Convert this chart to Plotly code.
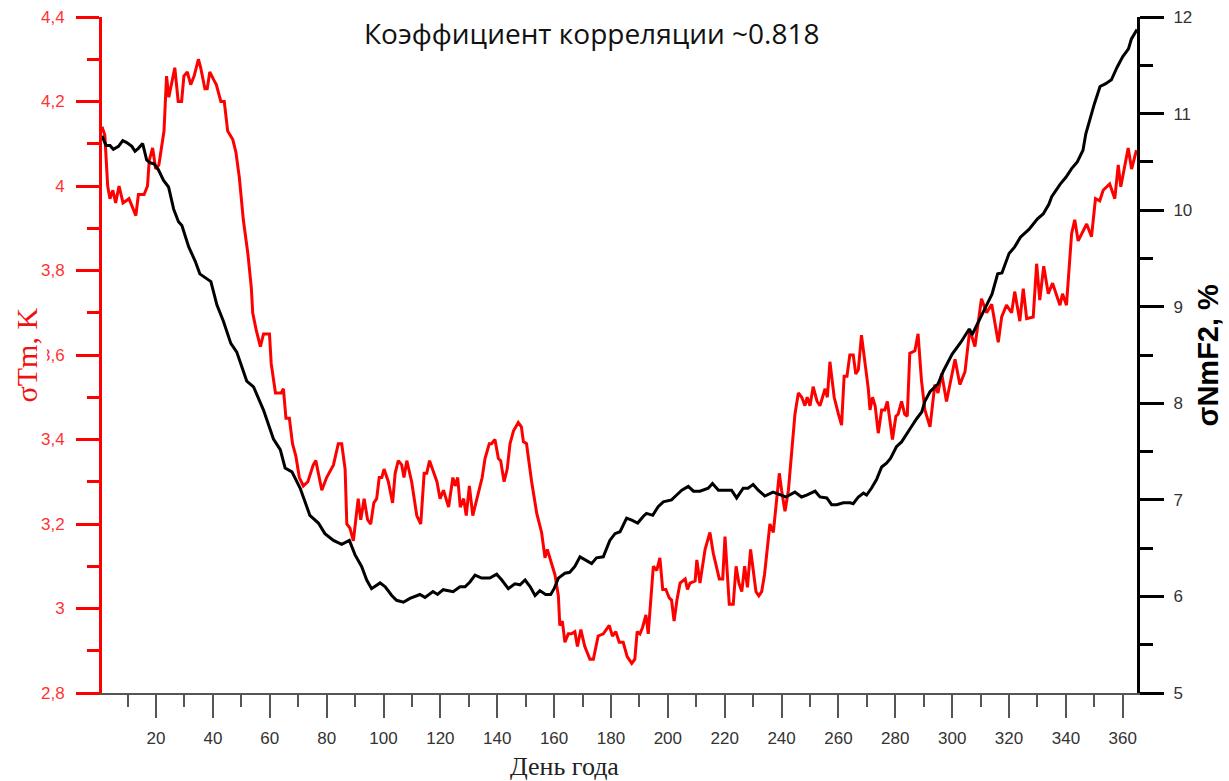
import plotly.graph_objects as go

# sigma Tm (left axis, red)
tm_day = [1, 2, 3, 3.8, 4.8, 5.8, 7, 8.4, 10.5, 11.7, 12.9, 13.8, 15.8, 17, 17.6, 18.8, 19.9, 21,
          22.8, 23.7, 24.5, 26.6, 27.8, 29, 29.8, 31, 32.2, 33.4, 34.9, 35.7, 37.2, 38, 38.9, 40.4,
          41.2, 42.8, 44, 45.2, 47, 48.1, 49.3, 50.7, 52.3, 53.5, 54, 55.2, 56.7, 57.8, 59.9, 60.5,
          62, 64, 64.8, 65.7, 66.9, 68, 69.2, 70.4, 71.8, 73.4, 75.3, 76.2, 78.3, 80, 82.4, 84.1,
          85.3, 86.5, 87.1, 88.2, 89.4, 91.1, 92, 93.2, 94.4, 95.5, 96.6, 97.6, 98.5, 99.4, 100.2,
          101.7, 103.2, 104.1, 105.2, 106.4, 107.2, 108.2, 109.9, 111.7, 113.1, 114.3, 115.2, 116.2,
          117.6, 118.8, 119.9, 121.1, 122.9, 124.4, 125.2, 126.1, 127, 128.2, 129.1, 130.2, 131.4,
          132.9, 134.7, 135.7, 137.2, 138, 139.2, 140.4, 141.2, 142.4, 143.5, 144.5, 145.7, 147.4,
          148.5, 149.2, 150.3, 152.1, 153.9, 155.6, 156.8, 157.6, 158.8, 160.3, 161.5, 162, 162.9,
          163.8, 165, 166.1, 167.3, 168.2, 169.4, 170.8, 172.6, 173.8, 175.5, 177.3, 179.4, 180.5,
          181.7, 182.9, 184.3, 185.7, 187.3, 188.4, 189.2, 190.2, 191.1, 192.3, 193.1, 194.9, 196.1,
          197.2, 198.2, 199.3, 200.5, 201.3, 202.2, 203.2, 204.3, 206.1, 206.9, 207.8, 209.6, 210.2,
          211.3, 213.1, 214.8, 216, 218.1, 219.3, 220.1, 221.6, 223, 224, 225, 226, 227, 228, 229.1,
          230, 231, 232, 233, 234, 235.9, 237.1, 239.2, 240, 241.2, 242.4, 243.5, 244.7, 245.9,
          247.1, 248.2, 249, 250, 251.1, 252.5, 253.5, 255.3, 256.1, 257, 258.5, 260, 261.1, 262,
          263, 264, 265.2, 266.1, 267, 268.1, 269.3, 270.5, 271.1, 272, 272.9, 274, 275.2, 276.3,
          277.2, 278.1, 279, 280.2, 281, 282.2, 283.3, 284.2, 285.1, 286.9, 288, 289.2, 290.4,
          292.2, 293.9, 295, 296.3, 298, 301, 302.7, 304.5, 306.2, 308, 310.3, 312.1, 313.9, 316.2,
          317.4, 319.1, 320.9, 322, 323.8, 325, 326.2, 328.5, 329.7, 330.8, 332.2, 333.8, 335.3,
          336.9, 337.9, 338.8, 340.2, 342, 343.1, 344.3, 347.3, 349, 350.4, 351.9, 353.1, 355.4,
          357.2, 358.4, 359.3, 361.9, 363.1, 364.8]
tm_val = [4.14, 4.12, 4.00, 3.97, 3.99, 3.96, 4.00, 3.96, 3.97, 3.95, 3.93, 3.98, 3.98, 4.00, 4.06,
          4.09, 4.04, 4.05, 4.13, 4.26, 4.21, 4.28, 4.20, 4.20, 4.26, 4.27, 4.24, 4.26, 4.30, 4.28,
          4.23, 4.23, 4.27, 4.25, 4.24, 4.20, 4.20, 4.13, 4.11, 4.08, 4.02, 3.92, 3.84, 3.76, 3.70,
          3.66, 3.62, 3.65, 3.65, 3.58, 3.51, 3.51, 3.52, 3.45, 3.45, 3.39, 3.36, 3.31, 3.29, 3.30,
          3.34, 3.35, 3.28, 3.31, 3.34, 3.39, 3.39, 3.33, 3.20, 3.19, 3.16, 3.26, 3.21, 3.26, 3.21,
          3.20, 3.25, 3.26, 3.31, 3.31, 3.33, 3.30, 3.25, 3.32, 3.35, 3.34, 3.31, 3.35, 3.30, 3.22,
          3.20, 3.32, 3.32, 3.35, 3.32, 3.30, 3.26, 3.28, 3.24, 3.31, 3.29, 3.31, 3.24, 3.26, 3.22,
          3.29, 3.22, 3.26, 3.31, 3.355, 3.39, 3.39, 3.40, 3.355, 3.35, 3.30, 3.33, 3.39, 3.42, 3.44,
          3.43, 3.395, 3.39, 3.30, 3.225, 3.18, 3.12, 3.14, 3.115, 3.08, 3.03, 2.96, 2.97, 2.92,
          2.94, 2.94, 2.945, 2.91, 2.95, 2.91, 2.88, 2.88, 2.935, 2.94, 2.96, 2.935, 2.945, 2.92,
          2.92, 2.886, 2.87, 2.88, 2.945, 2.94, 2.955, 2.985, 2.94, 3.10, 3.09, 3.12, 3.045, 3.045,
          3.025, 3.02, 2.97, 3.02, 3.06, 3.07, 3.045, 3.06, 3.065, 3.115, 3.06, 3.14, 3.18, 3.13,
          3.07, 3.07, 3.17, 3.01, 3.01, 3.10, 3.06, 3.04, 3.10, 3.05, 3.14, 3.09, 3.04, 3.03, 3.04,
          3.08, 3.20, 3.18, 3.32, 3.28, 3.23, 3.28, 3.37, 3.46, 3.51, 3.50, 3.48, 3.50, 3.48, 3.525,
          3.49, 3.48, 3.52, 3.50, 3.584, 3.50, 3.46, 3.434, 3.55, 3.55, 3.60, 3.60, 3.555, 3.565,
          3.647, 3.585, 3.52, 3.47, 3.50, 3.48, 3.415, 3.47, 3.47, 3.49, 3.445, 3.40, 3.455, 3.46,
          3.49, 3.46, 3.455, 3.604, 3.61, 3.65, 3.54, 3.47, 3.43, 3.53, 3.51, 3.556, 3.49, 3.59,
          3.53, 3.56, 3.66, 3.62, 3.733, 3.70, 3.72, 3.63, 3.69, 3.718, 3.70, 3.75, 3.68, 3.757,
          3.686, 3.69, 3.816, 3.73, 3.81, 3.745, 3.77, 3.735, 3.718, 3.745, 3.718, 3.887, 3.92,
          3.87, 3.91, 3.88, 3.97, 3.965, 3.99, 4.005, 3.97, 4.05, 3.998, 4.09, 4.04, 4.085]

# sigma NmF2 (right axis, black)
nm_day = [1, 2.4, 3.8, 5, 6.8, 8.3, 9.7, 11.5, 12.6, 13.8, 15.3, 16.7, 17.9, 19.3, 20.8, 22.6, 24.4,
          26.2, 27.9, 29.1, 31.5, 33.8, 35.4, 37.3, 39.3, 41.4, 43.7, 46.3, 48.4, 51.9, 54.3, 57.8,
          61.3, 63.7, 65.4, 67.8, 70.7, 74.1, 77.1, 79.4, 82.4, 85.3, 88, 90, 92.3, 94.1, 95.8,
          98.8, 100.6, 102.9, 104.6, 107, 109.3, 112.8, 114.6, 117.4, 119, 121, 124.5, 126.9, 128.7,
          130.4, 132.2, 134.5, 137.4, 139.8, 141.6, 143.9, 146.2, 148, 149.8, 151.6, 153.3, 155,
          157, 158.8, 160, 161.5, 163.8, 165.5, 167.3, 169.1, 170.8, 173.2, 174.9, 177.3, 179.6,
          181.4, 183.2, 185.5, 187.3, 189.4, 191.4, 192.5, 194.7, 196.6, 198.4, 201.3, 203.1, 204.9,
          207.2, 209, 211.3, 214.2, 215.7, 217.8, 220.7, 222.4, 224.2, 226.5, 228.2, 230, 231.8,
          234.1, 237, 239.4, 241.5, 244.7, 247, 248.8, 251.8, 253.5, 255.9, 257.6, 259.4, 261.7,
          264.1, 265.2, 267, 268.8, 269.9, 271.6, 273.4, 275.2, 276.9, 278.3, 280.4, 282.2, 284,
          285.7, 287.5, 289.3, 290.4, 292.2, 295, 297, 300, 303, 306, 307, 310, 314, 316, 317.5,
          320, 322, 324, 327, 330, 332, 334, 335, 338, 340, 342, 344, 346, 347, 350, 352, 354, 356,
          358, 360, 362, 363, 365]
nm_val = [10.77, 10.67, 10.67, 10.63, 10.66, 10.72, 10.70, 10.66, 10.61, 10.64, 10.69, 10.52, 10.49,
          10.48, 10.42, 10.31, 10.24, 10.01, 9.88, 9.84, 9.62, 9.47, 9.34, 9.30, 9.26, 9.02, 8.85,
          8.62, 8.53, 8.23, 8.17, 7.93, 7.63, 7.52, 7.33, 7.29, 7.12, 6.84, 6.76, 6.65, 6.58, 6.54,
          6.58, 6.43, 6.31, 6.17, 6.08, 6.14, 6.10, 6.01, 5.96, 5.94, 5.98, 6.02, 5.99, 6.05, 6.02,
          6.07, 6.05, 6.10, 6.10, 6.15, 6.22, 6.19, 6.19, 6.23, 6.17, 6.08, 6.13, 6.12, 6.17, 6.10,
          6.01, 6.06, 6.02, 6.02, 6.08, 6.19, 6.24, 6.25, 6.31, 6.41, 6.38, 6.34, 6.40, 6.41, 6.58,
          6.65, 6.67, 6.81, 6.79, 6.76, 6.83, 6.86, 6.84, 6.93, 6.98, 7.00, 7.05, 7.10, 7.14, 7.09,
          7.09, 7.12, 7.17, 7.10, 7.10, 7.10, 7.02, 7.12, 7.12, 7.16, 7.10, 7.04, 7.08, 7.05, 7.03,
          7.08, 7.03, 7.05, 7.09, 7.03, 7.02, 6.95, 6.95, 6.97, 6.97, 6.96, 7.03, 7.07, 7.05, 7.12,
          7.21, 7.34, 7.38, 7.43, 7.55, 7.60, 7.69, 7.76, 7.84, 7.91, 8.02, 8.12, 8.20, 8.34, 8.51,
          8.63, 8.77, 8.71, 8.89, 9.13, 9.34, 9.35, 9.55, 9.62, 9.72, 9.80, 9.91, 9.96, 10.06, 10.14,
          10.27, 10.34, 10.43, 10.50, 10.62, 10.79, 11.10, 11.28, 11.31, 11.35, 11.48, 11.59, 11.67,
          11.77, 11.87]

x_ticks = list(range(20, 361, 20))

fig = go.Figure()

# Draw lines
fig.add_trace(go.Scatter(x=tm_day, y=tm_val, mode='lines',
                         line=dict(color='#ff0000', width=3), yaxis='y'))
fig.add_trace(go.Scatter(x=nm_day, y=nm_val, mode='lines',
                         line=dict(color='#000000', width=3), yaxis='y2'))

tick_font = dict(family="Liberation Sans, Arial", size=17, color='#333333')

fig.update_layout(
    width=1229,
    height=781,
    margin=dict(l=102, r=92, t=17, b=88, autoexpand=False),
    plot_bgcolor='white',
    paper_bgcolor='white',
    showlegend=False,
    separators=', ',
    xaxis=dict(
        range=[1, 365], tickvals=x_ticks, showgrid=False, zeroline=False,
        showline=True, linecolor='#555555', linewidth=1.5,
        ticks='outside', ticklen=23, tickwidth=1.5, tickcolor='#555555',
        minor=dict(dtick=10, tick0=0, ticks='outside', ticklen=12, tickwidth=1.5,
                   tickcolor='#555555', showgrid=False),
        tickfont=tick_font, ticklabelstandoff=6,
    ),
    yaxis=dict(
        range=[2.8, 4.4], dtick=0.2, tick0=2.8, showgrid=False, zeroline=False,
        showline=True, linecolor='#ff0000', linewidth=3,
        ticks='outside', ticklen=23, tickwidth=3, tickcolor='#ff0000',
        minor=dict(dtick=0.1, tick0=2.8, ticks='outside', ticklen=12, tickwidth=3,
                   tickcolor='#ff0000', showgrid=False),
        tickfont=dict(family="Liberation Sans, Arial", size=17, color='#ff3333'),
        ticklabelstandoff=8,
    ),
    yaxis2=dict(
        range=[5, 12], dtick=1, overlaying='y', side='right', showgrid=False, zeroline=False,
        showline=True, linecolor='#000000', linewidth=3,
        ticks='outside', ticklen=24, tickwidth=3, tickcolor='#000000',
        minor=dict(dtick=0.5, tick0=5, ticks='outside', ticklen=13, tickwidth=3,
                   tickcolor='#000000', showgrid=False),
        tickfont=tick_font, ticklabelstandoff=6,
    ),
)

# Titles
fig.add_annotation(text="Коэффициент корреляции ~0.818", xref='paper', yref='paper',
                   x=0.4734, y=0.976, showarrow=False, xanchor='center', yanchor='middle',
                   font=dict(family="Open Sans", size=28, color='#111111'))
fig.add_annotation(text="День года", xref='paper', yref='paper',
                   x=0.447, y=-0.108, showarrow=False, xanchor='center', yanchor='middle',
                   font=dict(family="Liberation Serif", size=26, color='#222222'))
fig.add_annotation(text="σTm, K", xref='paper', yref='paper',
                   x=-0.073, y=0.50, showarrow=False, textangle=-90,
                   xanchor='center', yanchor='middle', bgcolor='white', borderpad=3,
                   font=dict(family="Liberation Serif", size=30, color='#ee1111'))
fig.add_annotation(text="<b>σNmF2, %</b>", xref='paper', yref='paper',
                   x=1.069, y=0.50, showarrow=False, textangle=-90,
                   xanchor='center', yanchor='middle',
                   font=dict(family="Liberation Sans, Arial", size=29, color='#000000'))

fig.write_html("out.html", config={'displayModeBar': False},
               post_script="document.body.style.margin='0';")
